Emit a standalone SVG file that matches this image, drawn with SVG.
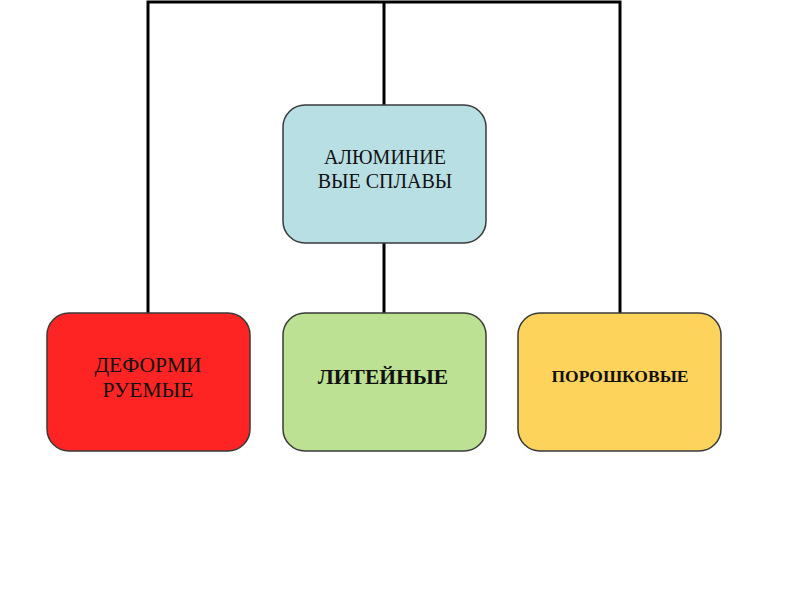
<svg xmlns="http://www.w3.org/2000/svg" width="800" height="600" viewBox="0 0 800 600">
<style>
.box{stroke:#3a3a3a;stroke-width:1.5}
.t{font-family:"Liberation Serif","Times New Roman",serif;fill:#111;text-anchor:middle}
.c{fill:none;stroke:#000;stroke-width:3}
</style>
<rect width="800" height="600" fill="#fff"/>
<g id="connectors">
<polyline class="c" points="148,313 148,2 620,2 620,313"/>
<line class="c" x1="384" y1="2" x2="384" y2="105"/>
<line class="c" x1="384" y1="243" x2="384" y2="313"/>
</g>
<g id="root">
<rect class="box" x="283" y="105" width="203" height="138" rx="22" fill="#b8dfe3"/>
<text class="t" x="385" y="164" font-size="20">АЛЮМИНИЕ</text>
<text class="t" x="385" y="188" font-size="20">ВЫЕ СПЛАВЫ</text>
</g>
<g id="deform">
<rect class="box" x="47" y="313" width="203" height="138" rx="22" fill="#fe2424"/>
<text class="t" x="148" y="372" font-size="21.5">ДЕФОРМИ</text>
<text class="t" x="148" y="397" font-size="21.5">РУЕМЫЕ</text>
</g>
<g id="cast">
<rect class="box" x="283" y="313" width="203" height="138" rx="22" fill="#bde193"/>
<text class="t" x="383" y="384" font-size="21.5" font-weight="bold">ЛИТЕЙНЫЕ</text>
</g>
<g id="powder">
<rect class="box" x="518" y="313" width="203" height="138" rx="22" fill="#fdd35c"/>
<text class="t" x="620" y="382" font-size="17.5" font-weight="bold">ПОРОШКОВЫЕ</text>
</g>
</svg>
